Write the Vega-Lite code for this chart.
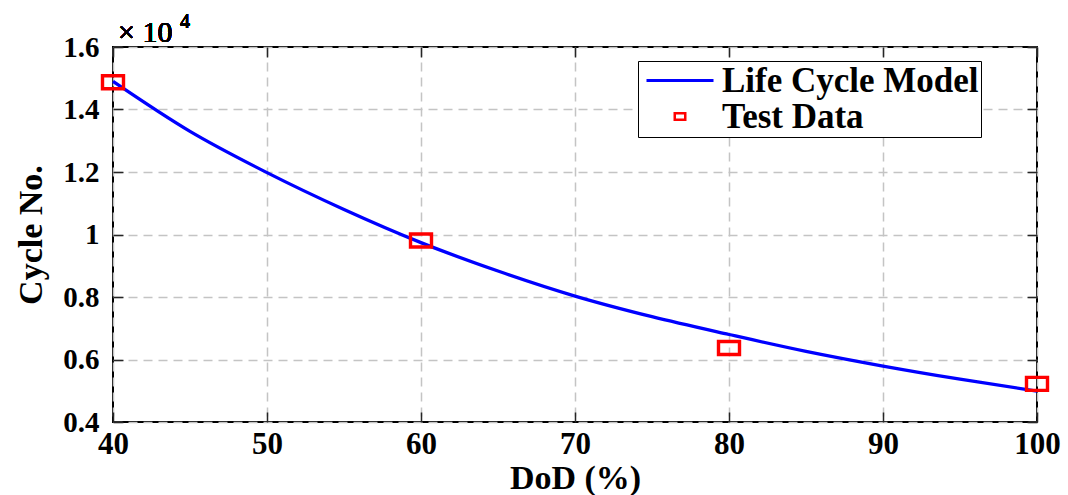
{
  "$schema": "https://vega.github.io/schema/vega-lite/v6.json",
  "width": 924,
  "height": 375,
  "autosize": {"type": "none"},
  "padding": {"left": 113, "top": 47, "right": 31, "bottom": 73},
  "background": "white",
  "config": {
    "view": {"stroke": "#000000", "strokeWidth": 2},
    "font": "Liberation Serif",
    "axis": {
      "domain": false,
      "labelFont": "Liberation Serif",
      "labelFontWeight": "bold",
      "labelColor": "#000000",
      "labelFlush": false,
      "titleFont": "Liberation Serif",
      "titleFontWeight": "bold",
      "titleColor": "#000000",
      "tickColor": "#262626",
      "tickWidth": 1.5,
      "tickSize": -10,
      "gridColor": "#c4c4c4",
      "gridWidth": 1.5,
      "gridDash": [9, 6]
    }
  },
  "datasets": {
    "pts": [
      {"series": "Life Cycle Model", "dod": 40, "cycles": 14900},
      {"series": "Life Cycle Model", "dod": 45, "cycles": 13300},
      {"series": "Life Cycle Model", "dod": 50, "cycles": 11980},
      {"series": "Life Cycle Model", "dod": 55, "cycles": 10800},
      {"series": "Life Cycle Model", "dod": 60, "cycles": 9740},
      {"series": "Life Cycle Model", "dod": 65, "cycles": 8830},
      {"series": "Life Cycle Model", "dod": 70, "cycles": 8030},
      {"series": "Life Cycle Model", "dod": 75, "cycles": 7370},
      {"series": "Life Cycle Model", "dod": 80, "cycles": 6800},
      {"series": "Life Cycle Model", "dod": 85, "cycles": 6260},
      {"series": "Life Cycle Model", "dod": 90, "cycles": 5790},
      {"series": "Life Cycle Model", "dod": 95, "cycles": 5370},
      {"series": "Life Cycle Model", "dod": 100, "cycles": 4990},
      {"series": "Test Data", "dod": 40, "cycles": 14870},
      {"series": "Test Data", "dod": 60, "cycles": 9810},
      {"series": "Test Data", "dod": 80, "cycles": 6370},
      {"series": "Test Data", "dod": 100, "cycles": 5220}
    ]
  },
  "data": {"name": "pts"},
  "resolve": {"axis": {"x": "independent", "y": "independent"}},
  "layer": [
    {
      "transform": [{"filter": "datum.series === 'Life Cycle Model'"}],
      "mark": {"type": "line", "strokeWidth": 3.3, "interpolate": "monotone"},
      "encoding": {
        "x": {
          "field": "dod", "type": "quantitative",
          "scale": {"domain": [40, 100], "nice": false, "zero": false},
          "axis": {"values": [40, 50, 60, 70, 80, 90, 100], "title": "DoD (%)", "labelFontSize": 31, "titleFontSize": 34, "labelPadding": 17, "titlePadding": 2}
        },
        "y": {
          "field": "cycles", "type": "quantitative",
          "scale": {"domain": [4000, 16000], "nice": false, "zero": false},
          "axis": {"values": [4000, 6000, 8000, 10000, 12000, 14000, 16000], "labelExpr": "format(datum.value / 10000, '')", "title": "Cycle No.", "labelFontSize": 29, "titleFontSize": 34, "labelPadding": 24, "titlePadding": 14}
        },
        "color": {
          "field": "series", "type": "nominal",
          "scale": {"domain": ["Life Cycle Model", "Test Data"], "range": ["#0000ff", "#ff0000"]},
          "legend": {
            "title": null,
            "orient": "none",
            "legendX": 525,
            "legendY": 14,
            "padding": 2,
            "strokeColor": "#000000",
            "fillColor": "#ffffff",
            "labelFont": "Liberation Serif",
            "labelFontWeight": "bold",
            "labelFontSize": 35,
            "labelColor": "#000000",
            "labelLimit": 500,
            "rowPadding": -4,
            "symbolType": "stroke",
            "symbolStrokeWidth": 3,
            "encode": {
              "symbols": {
                "update": {
                  "x": {"value": 40},
                  "shape": {"signal": "datum.value === 'Test Data' ? 'M-1,-0.62H1V0.62H-1Z' : 'stroke'"},
                  "size": {"signal": "datum.value === 'Test Data' ? 110 : 4489"},
                  "strokeWidth": {"signal": "datum.value === 'Test Data' ? 2.5 : 3"},
                  "fill": {"value": "transparent"},
                  "stroke": {"signal": "datum.value === 'Test Data' ? '#ff0000' : '#0000ff'"}
                }
              },
              "labels": {
                "update": {
                  "x": {"value": 82}
                }
              }
            }
          }
        }
      }
    },
    {
      "transform": [{"filter": "datum.series === 'Test Data'"}],
      "mark": {"type": "point", "filled": false, "strokeWidth": 3.4, "shape": "M-1,-0.62H1V0.62H-1Z", "size": 441, "opacity": 1},
      "encoding": {
        "x": {
          "field": "dod", "type": "quantitative",
          "axis": {"orient": "top", "values": [40, 50, 60, 70, 80, 90, 100], "labels": false, "title": null, "grid": false}
        },
        "y": {
          "field": "cycles", "type": "quantitative",
          "axis": {"orient": "right", "values": [4000, 6000, 8000, 10000, 12000, 14000, 16000], "labels": false, "title": null, "grid": false}
        },
        "color": {"field": "series", "type": "nominal"}
      }
    },
    {
      "mark": {"type": "text", "text": "× 10", "font": "Liberation Serif", "fontWeight": "normal", "fontSize": 30, "align": "left", "baseline": "alphabetic", "dx": 5, "dy": -5, "color": "#000000"},
      "encoding": {
        "x": {"datum": 40, "type": "quantitative", "axis": null},
        "y": {"datum": 16000, "type": "quantitative", "axis": null}
      }
    },
    {
      "mark": {"type": "text", "text": "4", "font": "Liberation Serif", "fontWeight": "normal", "fontSize": 20, "align": "left", "baseline": "alphabetic", "dx": 67, "dy": -19, "color": "#000000"},
      "encoding": {
        "x": {"datum": 40, "type": "quantitative", "axis": null},
        "y": {"datum": 16000, "type": "quantitative", "axis": null}
      }
    }
  ]
}
